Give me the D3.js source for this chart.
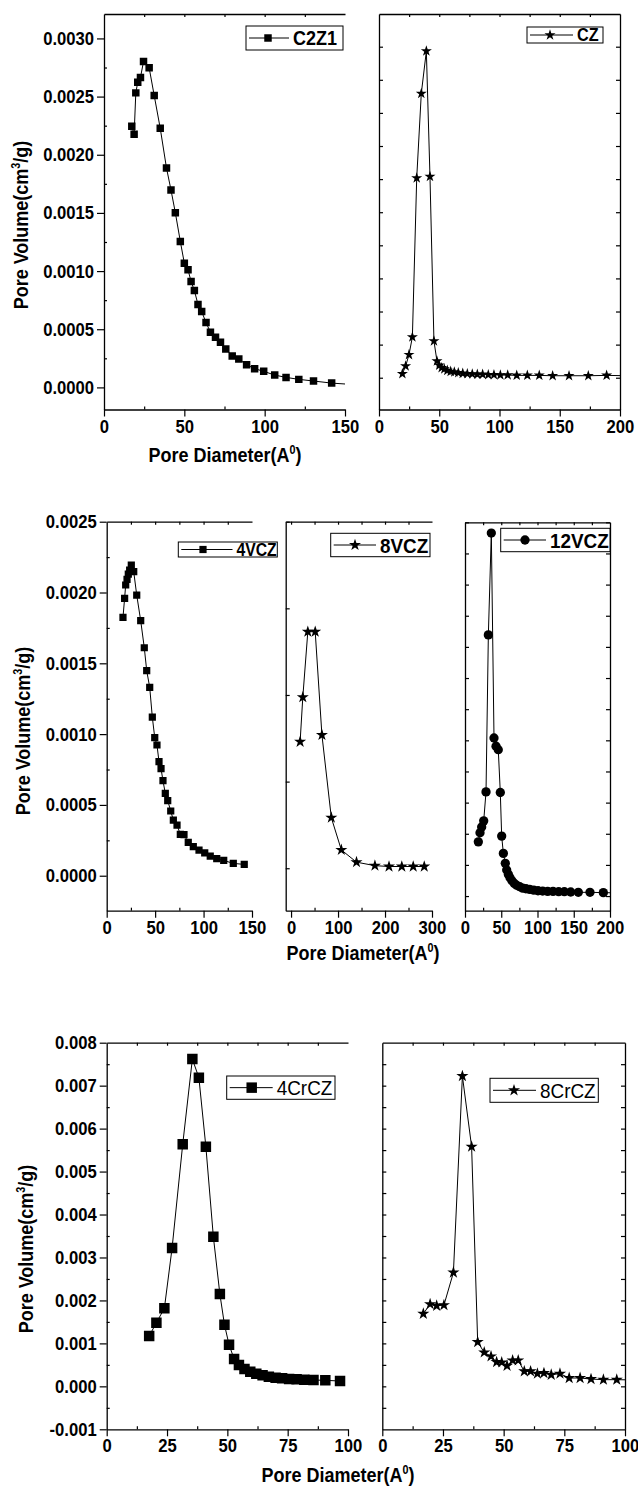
<!DOCTYPE html>
<html><head><meta charset="utf-8">
<script src="https://cdn.jsdelivr.net/npm/d3@7"></script>
<style>body{margin:0;background:#fff} svg{display:block}</style>
</head><body><svg id="c" width="638" height="1491"></svg>
<script>
// ---------- data ----------
const c2z1D=[17.3,18.75,19.8,21.0,22.7,24.6,28.1,31.25,35,38.9,41.7,44.4,47.5,50,52.3,54.2,56.25,58.5,60.8,63.5,66.25,69.4,72.5,75.8,79.8,83.9,88.75,93.75,99.4,106.25,113.3,121.25,130.4,141.7,158];
const c2z1V=[0.002245,0.002176,0.002532,0.002624,0.002664,0.002802,0.002748,0.002509,0.002228,0.001886,0.001697,0.001502,0.001255,0.001068,0.001011,0.00091,0.000833,0.000712,0.000652,0.000557,0.000474,0.000431,0.000388,0.00033,0.00027,0.000244,0.000195,0.000161,0.000138,0.000106,0.000086,0.000069,0.000055,0.000037,0.000022];
const czD=[19.4,22.1,24.9,27.7,31.3,35.1,39.3,42.3,45.6,48.1,50,52,54.2,56.7,59.5,62.5,65.8,69.5,73.3,77.4,81.6,86,90.7,95.4,100.7,106.8,114.3,123.1,133,144.1,157.7,173.7,188.9,206];
const czV=[0.00006,0.000176,0.000348,0.000615,0.003015,0.004292,0.004933,0.00304,0.000555,0.000252,0.000186,0.00015,0.00013,0.00011,0.000095,0.000085,0.000075,0.000065,0.00006,0.000055,0.00005,0.00005,0.000045,0.000045,0.00004,0.00004,0.000035,0.000035,0.000035,0.00003,0.00003,0.00003,0.000035,0.00003];
const v4D=[16.8,18.5,19.6,21,22.3,23.7,25.4,27.9,31,35.1,38.8,41.3,44.4,47.1,49.6,51.9,54,56.1,58.1,60.5,63,66.1,68.8,72.6,76,79.8,84.2,89.4,95.3,101.2,106.9,113.6,120.8,130.7,142];
const v4V=[0.001824,0.001959,0.002053,0.002093,0.00213,0.002159,0.002194,0.002147,0.001982,0.001801,0.00161,0.001448,0.00133,0.00112,0.000975,0.000923,0.000805,0.000756,0.000671,0.000581,0.00053,0.000457,0.000393,0.000358,0.000292,0.00029,0.000235,0.000205,0.000181,0.000162,0.000139,0.00012,0.000108,0.000087,0.00008];
const v8D=[19.3,25,35.7,51.4,65.7,85.7,107,139.3,178.5,208.5,235.7,260,283.5];
const v8V=[0.00073,0.000987,0.001365,0.001365,0.000769,0.000292,0.000106,0.000035,0.000015,0.00001,0.00001,0.00001,0.00001];
const v12D=[18.4,20.7,23,25.8,29,32.2,36.3,40,42.8,45.9,48.7,50.6,52.9,55.6,57.5,59.8,62.1,64.8,68,71.3,75.4,79.6,84.1,89.2,94.8,100.7,107.1,114,121.4,129.2,137,145.8,156.3,172.4,190.8,210];
const v12V=[0.000348,0.000406,0.000444,0.000483,0.000669,0.001677,0.002331,0.001015,0.000962,0.00094,0.000665,0.000385,0.000274,0.00021,0.000167,0.000139,0.000118,0.000098,0.000081,0.000069,0.00006,0.000051,0.000047,0.000043,0.000038,0.000034,0.000032,0.00003,0.00003,0.000028,0.000028,0.000026,0.000024,0.000024,0.000022,0.00002];
const cr4D=[17.6,20.6,23.9,27.1,31.5,35.5,38.2,41.1,44.2,46.9,48.8,50.7,52.8,54.8,57.1,59.5,62,64.6,67.2,70,72.7,75.6,78.7,81.9,85.7,90.6,96.7];
const cr4V=[0.001172,0.001482,0.001816,0.00322,0.005634,0.00762,0.007186,0.00558,0.003484,0.00215,0.001436,0.00097,0.000636,0.000497,0.000404,0.000341,0.000295,0.000256,0.000225,0.000202,0.000186,0.000171,0.000163,0.000155,0.000147,0.00014,0.000124];
const cr8D=[16.9,19.7,22.4,25.4,29.3,33,36.8,39.3,42,44.8,47.1,49.2,51.4,53.7,56,58.5,61.1,63.9,66.6,69.6,73.2,77,81.5,86,91.1,96.6,103];
const cr8V=[0.00169,0.001914,0.001876,0.001891,0.00265,0.007223,0.00558,0.001031,0.00079,0.000698,0.000566,0.000558,0.00048,0.000605,0.000605,0.000349,0.000349,0.000295,0.00031,0.000271,0.000295,0.000194,0.000194,0.00017,0.000155,0.000155,0.00015];

// tick values / labels
const yTick1=[0,0.0005,0.001,0.0015,0.002,0.0025,0.003];
const yLab1=["0.0000","0.0005","0.0010","0.0015","0.0020","0.0025","0.0030"];
const yTick2=[0,0.0005,0.001,0.0015,0.002,0.0025];
const yLab2=["0.0000","0.0005","0.0010","0.0015","0.0020","0.0025"];
const yTick3=[-0.001,0,0.001,0.002,0.003,0.004,0.005,0.006,0.007,0.008];
const yLab3=["-0.001","0.000","0.001","0.002","0.003","0.004","0.005","0.006","0.007","0.008"];
const xTickA=[0,50,100,150];
const xTickB=[0,50,100,150,200];
const xTickC=[0,100,200,300];
const xTickD=[0,25,50,75,100];
const names=["C2Z1","CZ","4VCZ","8VCZ","12VCZ","4CrCZ","8CrCZ"];
const yTitle="Pore Volume(cm", yTitleSup="3", yTitleEnd="/g)";
const xTitle="Pore Diameter(A", xTitleSup="0", xTitleEnd=")";

// ---------- drawing ----------
const FONT='"Liberation Sans", Arial, Helvetica, sans-serif';
const SX=0.9;
const svg=d3.select('#c');
const step=(a,b,s)=>d3.range(Math.round((b-a)/s)+1).map(i=>+(a+i*s).toFixed(8));

const panels=[
 {xs:c2z1D,ys:c2z1V,name:names[0],x0:104,x1:345,y0:14,y1:409.5,xd:[0,150],yd:[-0.00019,0.00321],
  xMaj:xTickA,xMin:step(25,125,50),yMaj:yTick1,yLab:yLab1,yMin:step(0.00025,0.00275,0.0005),right:false,
  sym:d3.symbolSquare,size:56,leg:{x:246,y:26,w:97,h:24,mx:268,tx:293,fs:20,fw:'bold'}},
 {xs:czD,ys:czV,name:names[1],x0:379,x1:620,y0:14,y1:409.5,xd:[0,200],yd:[-0.00048,0.005494],
  xMaj:xTickB,xMin:step(25,175,50),yAll:step(0,0.005,0.0005),right:true,
  sym:d3.symbolStar,size:38,leg:{x:527,y:27,w:76,h:16,mx:550,tx:577,fs:18,fw:'bold'}},
 {xs:v4D,ys:v4V,name:names[2],x0:106.7,x1:252,y0:521.7,y1:910.7,xd:[0,150],yd:[-0.000247,0.0025],
  xMaj:xTickA,xMin:step(25,125,50),yMaj:yTick2,yLab:yLab2,yMin:step(0.00025,0.00225,0.0005),right:false,
  sym:d3.symbolSquare,size:52,leg:{x:178.3,y:542,w:99,h:15,mx:203,tx:236.5,fs:17.5,fw:'bold'}},
 {xs:v8D,ys:v8V,name:names[3],x0:285.7,x1:432,y0:521.7,y1:910.7,xd:[-11.4,300],yd:[-0.000245,0.002],
  xMaj:xTickC,xMin:step(50,250,100),yAll:step(0,0.002,0.0005),right:false,
  sym:d3.symbolStar,size:45,leg:{x:330.7,y:533.3,w:99.3,h:23.4,mx:355,tx:380,fs:21,fw:'bold'}},
 {xs:v12D,ys:v12V,name:names[4],x0:465,x1:610,y0:522.3,y1:910.7,xd:[0,200],yd:[-0.000094,0.0024],
  xMaj:xTickB,xMin:step(25,175,50),yAll:step(0,0.0024,0.0002),right:true,
  sym:d3.symbolCircle,size:68,leg:{x:500.7,y:528.3,w:109.3,h:23.4,mx:525,tx:550,fs:21,fw:'bold'}},
 {xs:cr4D,ys:cr4V,name:names[5],x0:106.7,x1:348,y0:1042.7,y1:1429.3,xd:[0,100],yd:[-0.001,0.008],
  xMaj:xTickD,xMin:step(12.5,87.5,25),yMaj:yTick3,yLab:yLab3,yMin:step(-0.0005,0.0075,0.001),right:false,
  sym:d3.symbolSquare,size:110,leg:{x:226.7,y:1076,w:108.3,h:23.3,mx:251.7,tx:276.7,fs:21,fw:'normal'}},
 {xs:cr8D,ys:cr8V,name:names[6],x0:382.3,x1:625,y0:1042.7,y1:1429.3,xd:[0,100],yd:[-0.001,0.008],
  xMaj:xTickD,xMin:step(12.5,87.5,25),yAll:step(-0.0005,0.0075,0.0005),right:true,
  sym:d3.symbolStar,size:46,leg:{x:490,y:1078.3,w:108.3,h:24,mx:514,tx:540,fs:21,fw:'normal'}}
];

function styleAxis(g){
  g.attr('font-family',FONT).attr('font-size',18.5).attr('font-weight','bold');
  g.selectAll('.domain').attr('stroke','#000').attr('stroke-width',1.3);
  g.selectAll('.tick line').attr('stroke','#000').attr('stroke-width',1.2);
  g.selectAll('.tick text').attr('fill','#000').each(function(){
    const t=d3.select(this); const tx=+t.attr('x')||0, ty=+t.attr('y')||0;
    t.attr('x',null).attr('y',null).attr('transform',`translate(${tx},${ty}) scale(${SX},1)`);
  });
}
function noDomain(g){g.select('.domain').remove();}

panels.forEach((p,pi)=>{
  const x=d3.scaleLinear().domain(p.xd).range([p.x0,p.x1]);
  const y=d3.scaleLinear().domain(p.yd).range([p.y1,p.y0]);
  const cid='clip'+pi;
  svg.append('clipPath').attr('id',cid).append('rect')
    .attr('x',p.x0).attr('y',p.y0).attr('width',p.x1-p.x0).attr('height',p.y1-p.y0);
  const g=svg.append('g');
  g.append('g').attr('transform',`translate(0,${p.y1})`)
    .call(d3.axisBottom(x).tickValues(p.xMaj).tickSize(7).tickSizeOuter(0).tickPadding(3).tickFormat(d3.format('d')))
    .call(styleAxis);
  g.append('g').attr('transform',`translate(0,${p.y1})`)
    .call(d3.axisTop(x).tickValues(p.xMin).tickSize(3).tickFormat('')).call(styleAxis).call(noDomain);
  g.append('g').attr('transform',`translate(0,${p.y0})`)
    .call(d3.axisBottom(x).tickValues(p.xMaj.concat(p.xMin).filter(v=>v>p.xd[0]&&v<p.xd[1])).tickSize(3).tickSizeOuter(0).tickFormat(''))
    .call(styleAxis);
  if(p.yLab){
    g.append('g').attr('transform',`translate(${p.x0},0)`)
      .call(d3.axisLeft(y).tickValues(p.yMaj).tickSize(7).tickSizeOuter(0).tickPadding(3).tickFormat((d,i)=>p.yLab[i]))
      .call(styleAxis);
    g.append('g').attr('transform',`translate(${p.x0},0)`)
      .call(d3.axisRight(y).tickValues(p.yMin).tickSize(3).tickFormat('')).call(styleAxis).call(noDomain);
  } else {
    g.append('g').attr('transform',`translate(${p.x0},0)`)
      .call(d3.axisRight(y).tickValues(p.yAll).tickSize(4).tickSizeOuter(0).tickFormat(''))
      .call(styleAxis);
  }
  if(p.right){
    g.append('g').attr('transform',`translate(${p.x1},0)`)
      .call(d3.axisLeft(y).tickValues(p.yAll).tickSize(4).tickSizeOuter(0).tickFormat(''))
      .call(styleAxis);
  }
  const pts=p.xs.map((d,i)=>[d,p.ys[i]]);
  const dg=g.append('g').attr('clip-path',`url(#${cid})`);
  dg.append('path').attr('d',d3.line().x(d=>x(d[0])).y(d=>y(d[1]))(pts))
    .attr('fill','none').attr('stroke','#000').attr('stroke-width',1);
  dg.selectAll('path.m').data(pts.filter(d=>d[0]<=p.xd[1])).join('path').attr('class','m')
    .attr('transform',d=>`translate(${x(d[0])},${y(d[1])})`)
    .attr('d',d3.symbol(p.sym,p.size)()).attr('fill','#000');
  const L=p.leg, lg=svg.append('g');
  lg.append('rect').attr('x',L.x).attr('y',L.y).attr('width',L.w).attr('height',L.h)
    .attr('fill','#fff').attr('stroke','#000').attr('stroke-width',1);
  const cy=L.y+L.h/2;
  lg.append('line').attr('x1',L.x+3).attr('x2',L.tx-4).attr('y1',cy).attr('y2',cy).attr('stroke','#000').attr('stroke-width',1);
  lg.append('path').attr('transform',`translate(${L.mx},${cy})`).attr('d',d3.symbol(p.sym,p.size)()).attr('fill','#000');
  lg.append('text').attr('transform',`translate(${L.tx},${cy}) scale(${SX},1)`).attr('dy','0.36em').attr('font-family',FONT)
    .attr('font-size',L.fs).attr('font-weight',L.fw).attr('fill','#000').text(p.name);
});

function title(tx,ty,rot,a,b,c){
  const t=svg.append('text').attr('transform',`translate(${tx},${ty}) rotate(${rot}) scale(${SX},1)`)
    .attr('text-anchor','middle').attr('font-family',FONT).attr('font-size',20).attr('font-weight','bold').attr('fill','#000');
  t.append('tspan').text(a);
  t.append('tspan').attr('font-size',12).attr('dy',-8).text(b);
  t.append('tspan').attr('dy',8).text(c);
}
title(28,225,-90,yTitle,yTitleSup,yTitleEnd);
title(30,731,-90,yTitle,yTitleSup,yTitleEnd);
title(33,1249,-90,yTitle,yTitleSup,yTitleEnd);
title(225,462,0,xTitle,xTitleSup,xTitleEnd);
title(363,960,0,xTitle,xTitleSup,xTitleEnd);
title(338,1482,0,xTitle,xTitleSup,xTitleEnd);
</script></body></html>
